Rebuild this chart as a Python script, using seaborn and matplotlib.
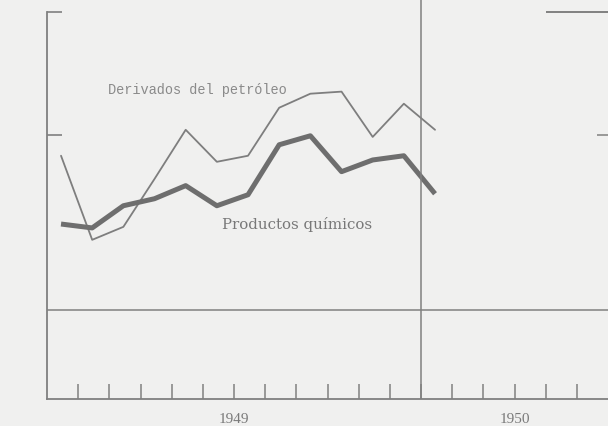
import matplotlib
matplotlib.use("Agg")
import matplotlib.pyplot as plt
import seaborn as sns
import pandas as pd

# Monthly index values, January 1949 – January 1950 (log scale, base 100)
months = [0.45 + i for i in range(13)]
derivados_petroleo = [143.1, 117.7, 121.3, 135.6, 152.0, 141.1, 143.1,
                      160.0, 165.3, 166.1, 149.5, 161.5, 152.0]
productos_quimicos = [122.1, 121.0, 127.4, 129.5, 133.5, 127.4, 130.7,
                      146.8, 149.9, 137.9, 141.7, 143.1, 131.0]

series_labels = ["Derivados del petróleo", "Productos químicos"]
year_labels = ["1949", "1950"]
year_positions = [6, 15]
month_ticks = list(range(1, 18))
left_ticks = [150, 200]
base_level = 100
year_break = 12

sns.set_style("white")
plt.rcParams["font.family"] = ["Liberation Serif", "DejaVu Serif"]

bg = "#f0f0ef"
ink = "#808080"

fig = plt.figure(figsize=(6.08, 4.27), dpi=100, facecolor=bg)
ax = fig.add_axes([47 / 608, 27 / 427, 561 / 608, 400 / 427])
ax.set_facecolor(bg)

df = pd.DataFrame({"mes": months,
                   "petroleo": derivados_petroleo,
                   "quimicos": productos_quimicos})

sns.lineplot(data=df, x="mes", y="petroleo", ax=ax, color="#7e7e7e",
             linewidth=1.3, legend=False)
sns.lineplot(data=df, x="mes", y="quimicos", ax=ax, color="#6e6e6e",
             linewidth=3.6, legend=False, solid_capstyle="butt")

ax.set_yscale("log")
ax.set_ylim(81.3, 206)
ax.set_xlim(0, 18)

# Reference lines: base level and the turn of the year
ax.axhline(base_level, color=ink, linewidth=1.1)
ax.axvline(year_break, color=ink, linewidth=1.1)

# Fragment of the neighbouring panel's scale on the right
ax.hlines(left_ticks[1], 16.0, 18, color=ink, linewidth=1.4)
ax.hlines(left_ticks[0], 17.65, 18, color=ink, linewidth=1.1)

for side in ["top", "right"]:
    ax.spines[side].set_visible(False)
for side in ["left", "bottom"]:
    ax.spines[side].set_color(ink)
    ax.spines[side].set_linewidth(1.3)
ax.spines["left"].set_bounds(81.3, left_ticks[1])

ax.set_yticks(left_ticks)
ax.set_yticklabels([])
ax.yaxis.set_minor_locator(matplotlib.ticker.NullLocator())
ax.tick_params(axis="y", which="major", direction="in", length=11,
               width=1.2, color=ink, left=True)

ax.set_xticks(month_ticks)
ax.set_xticklabels(["" for _ in month_ticks])
ax.tick_params(axis="x", which="major", direction="in", length=11,
               width=1.1, color=ink, bottom=True)
for lab, pos in zip(year_labels, year_positions):
    ax.text(pos, -0.048, lab, transform=ax.get_xaxis_transform(),
            ha="center", va="center", fontsize=11, color="#7a7a7a")

ax.set_xlabel("")
ax.set_ylabel("")

ax.text(1.95, 167.2, series_labels[0], fontsize=9.8, color="#8a8a8a",
        ha="left", va="center", family=["Liberation Mono", "DejaVu Sans Mono"])
ax.text(5.6, 122.2, series_labels[1], fontsize=10.8, color="#787878",
        ha="left", va="center", family=["DejaVu Serif"])

fig.savefig("out.png", dpi=100, facecolor=bg)
